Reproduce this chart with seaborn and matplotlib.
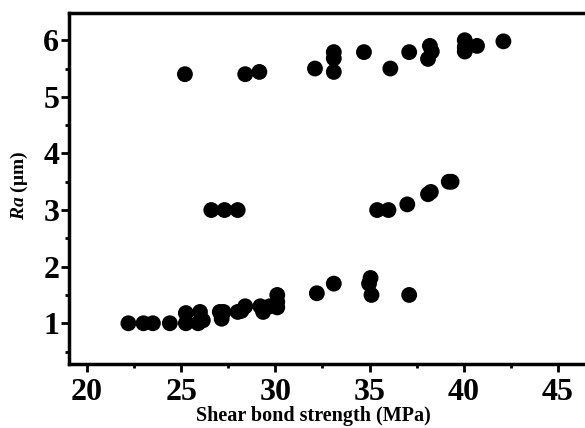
import numpy as np
import pandas as pd
import matplotlib
matplotlib.use("Agg")
import matplotlib.pyplot as plt
import seaborn as sns
from matplotlib.ticker import MultipleLocator

# shear bond strength (MPa) vs Ra (um)
strength = [22.2, 23.0, 23.5, 24.4, 25.25, 25.25, 26.0, 26.15, 25.9, 27.05, 27.15, 27.25,
            28.0, 28.4, 28.2, 29.2, 29.35, 29.7, 30.1, 30.1, 30.1,
            32.2, 33.1, 35.05, 34.97, 35.1, 37.1,
            26.6, 27.3, 28.0, 35.4, 36.0, 37.0, 38.1, 38.25, 39.2, 39.35,
            25.2, 28.4, 29.15, 32.1, 33.1, 33.1, 33.1, 34.7, 36.1, 37.1,
            38.2, 38.3, 38.1, 40.05, 40.05, 40.05, 40.7, 42.1]
ra = [1.0, 1.0, 1.0, 1.0, 1.18, 1.0, 1.2, 1.05, 1.0, 1.2, 1.08, 1.2,
      1.2, 1.3, 1.22, 1.3, 1.2, 1.3, 1.5, 1.38, 1.28,
      1.53, 1.7, 1.8, 1.7, 1.5, 1.5,
      3.0, 3.0, 3.0, 3.0, 3.0, 3.1, 3.28, 3.32, 3.5, 3.5,
      5.4, 5.4, 5.44, 5.5, 5.79, 5.68, 5.44, 5.79, 5.5, 5.79,
      5.9, 5.8, 5.67, 6.0, 5.88, 5.8, 5.9, 5.98]

df = pd.DataFrame({"strength": strength, "ra": ra})

sns.set_style("ticks")
plt.rcParams['font.family'] = ['Liberation Serif', 'DejaVu Serif']
plt.rcParams['mathtext.fontset'] = 'custom'
plt.rcParams['mathtext.it'] = 'Liberation Serif:italic:bold'
plt.rcParams['mathtext.rm'] = 'Liberation Serif:bold'
plt.rcParams['text.color'] = 'black'
plt.rcParams['axes.labelcolor'] = 'black'
plt.rcParams['xtick.color'] = 'black'
plt.rcParams['ytick.color'] = 'black'

fig = plt.figure(figsize=(5.85, 4.28), dpi=100)
ax = fig.add_axes([0.118, 0.1495, 0.882, 0.82])

sns.scatterplot(data=df, x="strength", y="ra", color="black", s=130,
                edgecolor="none", ax=ax, legend=False)

ax.set_xlim(19.05, 46.43)
ax.set_ylim(0.28, 6.48)
ax.xaxis.set_major_locator(MultipleLocator(5))
ax.xaxis.set_minor_locator(MultipleLocator(2.5))
ax.yaxis.set_major_locator(MultipleLocator(1))
ax.yaxis.set_minor_locator(MultipleLocator(0.5))

for s in ["left", "bottom", "top"]:
    ax.spines[s].set_linewidth(2.5)
    ax.spines[s].set_color("black")
ax.spines["right"].set_visible(False)

ax.tick_params(which="major", direction="out", length=6, width=2, color="black")
ax.tick_params(which="minor", direction="out", length=3, width=2, color="black")
ax.tick_params(axis="x", which="major", pad=4)
ax.tick_params(axis="y", which="major", pad=1)
ax.tick_params(top=False, right=False, which="both")

for lab in ax.get_xticklabels() + ax.get_yticklabels():
    lab.set_fontsize(23)
    lab.set_fontweight("bold")
    lab.set_color("black")

ax.set_xlabel("Shear bond strength (MPa)", fontsize=14.5, fontweight="bold", color="black")
ax.xaxis.set_label_coords((313 - 69) / 516, -0.12)
ax.set_ylabel(r"$\it{Ra}$ (μm)", fontsize=14, fontweight="bold", color="black")
ax.yaxis.set_label_coords(-0.075, 0.51)

fig.savefig("out.png", dpi=100)
